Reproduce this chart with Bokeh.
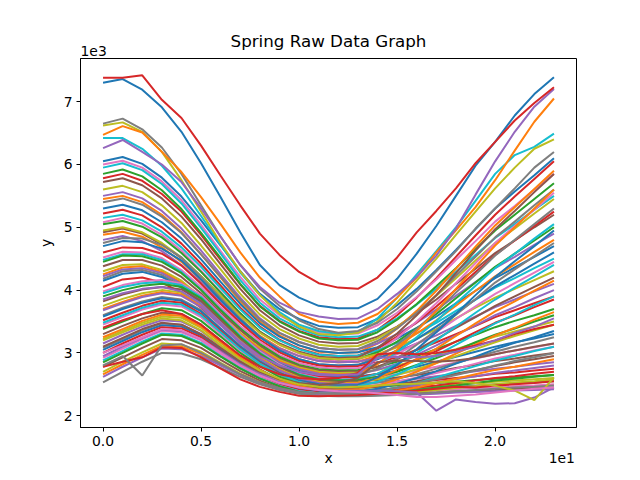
from bokeh.plotting import figure
from bokeh.models import Range1d, FixedTicker, Title, LinearAxis
from bokeh.embed import file_html
from bokeh.resources import INLINE

# values, y in units of 1e3, x = sample index 0..23 (axis shown in 1e1)
steps = list(range(24))
xtick_vals = [0, 5, 10, 15, 20]
xtick_text = ["0.0", "0.5", "1.0", "1.5", "2.0"]
ytick_vals = [2, 3, 4, 5, 6, 7]

# the lines that stand out from the bundle
red_top = [7.38, 7.38, 7.42, 7.03, 6.74, 6.30, 5.82, 5.35, 4.90, 4.56, 4.29, 4.11, 4.04, 4.02, 4.20, 4.52, 4.92, 5.26, 5.62, 6.02, 6.36, 6.70, 6.98, 7.23]
blue_top = [7.30, 7.36, 7.19, 6.91, 6.52, 6.02, 5.48, 4.92, 4.40, 4.08, 3.88, 3.75, 3.71, 3.71, 3.86, 4.18, 4.58, 5.02, 5.50, 5.98, 6.36, 6.78, 7.12, 7.39]
purple_top = [6.26, 6.39, 6.20, 6.00, 5.72, 5.30, 4.85, 4.40, 4.05, 3.80, 3.65, 3.58, 3.54, 3.55, 3.70, 3.94, 4.21, 4.55, 4.98, 5.52, 6.05, 6.52, 6.92, 7.20]
orange_top = [6.47, 6.61, 6.51, 6.20, 5.88, 5.48, 5.05, 4.60, 4.20, 3.90, 3.62, 3.50, 3.46, 3.48, 3.62, 3.88, 4.20, 4.60, 4.95, 5.32, 5.75, 6.22, 6.68, 7.05]
gray_top = [6.65, 6.73, 6.56, 6.27, 5.85, 5.35, 4.85, 4.40, 4.02, 3.75, 3.52, 3.38, 3.32, 3.35, 3.48, 3.70, 3.98, 4.30, 4.62, 4.98, 5.30, 5.62, 5.95, 6.20]
olive_top = [6.62, 6.67, 6.52, 6.20, 5.75, 5.25, 4.75, 4.30, 3.92, 3.62, 3.42, 3.30, 3.28, 3.32, 3.50, 3.80, 4.15, 4.50, 4.88, 5.25, 5.62, 5.95, 6.25, 6.40]
cyan_top = [6.42, 6.42, 6.25, 5.98, 5.62, 5.18, 4.72, 4.28, 3.92, 3.65, 3.45, 3.35, 3.30, 3.33, 3.55, 3.88, 4.25, 4.62, 5.00, 5.42, 5.85, 6.15, 6.28, 6.49]

# lines with a visible glitch or step
red_bottom = [2.78, 2.86, 2.93, 3.09, 3.08, 2.93, 2.75, 2.58, 2.46, 2.38, 2.32, 2.31, 2.32, 2.33, 2.35, 2.38, 2.40, 2.43, 2.46, 2.45, 2.48, 2.50, 2.52, 2.55]
gray_dip = [2.80, 2.95, 2.64, 3.12, 3.14, 3.00, 2.83, 2.66, 2.53, 2.44, 2.38, 2.36, 2.35, 2.36, 2.40, 2.45, 2.52, 2.58, 2.65, 2.72, 2.80, 2.87, 2.93, 3.00]
purple_dip = [2.95, 3.10, 3.24, 3.37, 3.35, 3.22, 3.02, 2.82, 2.65, 2.53, 2.45, 2.41, 2.40, 2.40, 2.40, 2.39, 2.37, 2.08, 2.26, 2.22, 2.19, 2.20, 2.29, 2.45]
olive_dip = [3.20, 3.33, 3.45, 3.55, 3.52, 3.36, 3.12, 2.90, 2.72, 2.59, 2.50, 2.46, 2.45, 2.46, 2.48, 2.50, 2.51, 2.53, 2.55, 2.52, 2.48, 2.40, 2.25, 2.61]
pink_low = [3.00, 3.12, 3.25, 3.38, 3.36, 3.22, 3.00, 2.80, 2.64, 2.52, 2.45, 2.41, 2.39, 2.38, 2.36, 2.33, 2.30, 2.30, 2.32, 2.34, 2.37, 2.40, 2.43, 2.45]
step_a = [3.40, 3.52, 3.62, 3.68, 3.62, 3.45, 3.20, 2.96, 2.78, 2.66, 2.60, 2.58, 2.60, 2.68, 2.98, 3.00, 2.98, 3.00, 3.05, 3.12, 3.20, 3.30, 3.38, 3.45]
step_b = [3.85, 3.95, 4.02, 4.05, 3.98, 3.78, 3.48, 3.18, 2.95, 2.80, 2.70, 2.65, 2.64, 2.66, 2.92, 2.94, 2.93, 2.95, 3.02, 3.10, 3.20, 3.32, 3.42, 3.55]
step_c = [3.10, 3.24, 3.38, 3.48, 3.45, 3.30, 3.08, 2.86, 2.70, 2.58, 2.52, 2.49, 2.52, 2.60, 2.85, 2.88, 2.87, 2.86, 2.88, 2.92, 2.98, 3.04, 3.10, 3.15]

# the main bundle, roughly top to bottom at x = 0
line01 = [6.05, 6.12, 6.01, 5.79, 5.49, 5.11, 4.71, 4.30, 3.94, 3.70, 3.54, 3.43, 3.40, 3.41, 3.54, 3.76, 4.02, 4.32, 4.64, 4.97, 5.30, 5.57, 5.83, 6.10]
line02 = [6.00, 6.06, 5.95, 5.73, 5.43, 5.04, 4.62, 4.21, 3.85, 3.60, 3.44, 3.33, 3.30, 3.31, 3.44, 3.64, 3.89, 4.17, 4.48, 4.78, 5.09, 5.34, 5.60, 5.85]
line03 = [5.95, 6.02, 5.91, 5.69, 5.38, 4.99, 4.58, 4.16, 3.80, 3.55, 3.39, 3.28, 3.25, 3.26, 3.37, 3.55, 3.77, 4.02, 4.29, 4.56, 4.83, 5.05, 5.28, 5.50]
line04 = [5.85, 5.92, 5.81, 5.59, 5.29, 4.91, 4.51, 4.10, 3.74, 3.50, 3.34, 3.23, 3.20, 3.21, 3.33, 3.53, 3.78, 4.06, 4.35, 4.65, 4.95, 5.20, 5.45, 5.70]
line05 = [5.72, 5.78, 5.67, 5.46, 5.17, 4.81, 4.41, 4.02, 3.68, 3.44, 3.28, 3.18, 3.15, 3.16, 3.26, 3.42, 3.63, 3.85, 4.10, 4.34, 4.59, 4.79, 5.00, 5.20]
line06 = [5.60, 5.66, 5.56, 5.35, 5.07, 4.71, 4.33, 3.94, 3.61, 3.38, 3.23, 3.13, 3.10, 3.11, 3.23, 3.41, 3.65, 3.91, 4.19, 4.47, 4.75, 4.98, 5.22, 5.45]
line07 = [5.50, 5.56, 5.46, 5.26, 4.98, 4.63, 4.25, 3.88, 3.55, 3.32, 3.18, 3.08, 3.05, 3.06, 3.15, 3.30, 3.48, 3.69, 3.91, 4.13, 4.35, 4.53, 4.72, 4.90]
line08 = [5.40, 5.46, 5.36, 5.17, 4.91, 4.57, 4.21, 3.85, 3.53, 3.32, 3.17, 3.08, 3.05, 3.06, 3.19, 3.39, 3.64, 3.92, 4.23, 4.53, 4.84, 5.09, 5.35, 5.60]
line09 = [5.30, 5.36, 5.27, 5.08, 4.82, 4.49, 4.13, 3.78, 3.47, 3.26, 3.12, 3.03, 3.00, 3.01, 3.09, 3.23, 3.40, 3.58, 3.79, 3.99, 4.19, 4.36, 4.53, 4.70]
line10 = [5.22, 5.28, 5.19, 5.00, 4.74, 4.42, 4.07, 3.72, 3.42, 3.21, 3.07, 2.98, 2.95, 2.96, 3.07, 3.26, 3.49, 3.74, 4.01, 4.29, 4.56, 4.79, 5.02, 5.25]
line11 = [5.15, 5.20, 5.11, 4.93, 4.68, 4.37, 4.03, 3.69, 3.40, 3.20, 3.06, 2.97, 2.95, 2.96, 3.04, 3.16, 3.31, 3.48, 3.67, 3.85, 4.04, 4.19, 4.35, 4.50]
line12 = [5.05, 5.10, 5.01, 4.84, 4.59, 4.29, 3.96, 3.63, 3.34, 3.14, 3.01, 2.92, 2.90, 2.91, 3.01, 3.18, 3.39, 3.62, 3.87, 4.12, 4.37, 4.58, 4.79, 5.00]
line13 = [4.95, 5.00, 4.92, 4.75, 4.52, 4.22, 3.91, 3.59, 3.32, 3.13, 3.00, 2.92, 2.90, 2.91, 2.98, 3.09, 3.23, 3.38, 3.55, 3.72, 3.88, 4.02, 4.16, 4.30]
line14 = [4.88, 4.93, 4.85, 4.68, 4.45, 4.16, 3.85, 3.54, 3.27, 3.08, 2.95, 2.87, 2.85, 2.86, 2.96, 3.11, 3.31, 3.52, 3.75, 3.99, 4.22, 4.41, 4.61, 4.80]
line15 = [4.80, 4.86, 4.78, 4.62, 4.40, 4.12, 3.81, 3.51, 3.25, 3.07, 2.95, 2.87, 2.85, 2.86, 2.92, 3.02, 3.15, 3.28, 3.43, 3.58, 3.73, 3.85, 3.98, 4.10]
line16 = [4.70, 4.78, 4.76, 4.66, 4.47, 4.17, 3.84, 3.53, 3.25, 3.04, 2.90, 2.82, 2.80, 2.81, 2.90, 3.04, 3.22, 3.42, 3.63, 3.85, 4.06, 4.24, 4.42, 4.60]
line17 = [4.60, 4.68, 4.67, 4.58, 4.39, 4.10, 3.78, 3.48, 3.21, 3.01, 2.87, 2.80, 2.78, 2.79, 2.85, 2.93, 3.05, 3.17, 3.30, 3.43, 3.57, 3.68, 3.79, 3.90]
line18 = [4.52, 4.61, 4.60, 4.51, 4.32, 4.05, 3.73, 3.43, 3.18, 2.97, 2.84, 2.77, 2.75, 2.76, 2.84, 2.98, 3.15, 3.33, 3.54, 3.74, 3.94, 4.11, 4.28, 4.45]
line19 = [4.45, 4.55, 4.54, 4.45, 4.27, 4.00, 3.68, 3.39, 3.14, 2.94, 2.81, 2.74, 2.72, 2.73, 2.78, 2.86, 2.95, 3.06, 3.18, 3.29, 3.41, 3.51, 3.60, 3.70]
line20 = [4.38, 4.48, 4.48, 4.39, 4.21, 3.95, 3.64, 3.36, 3.11, 2.91, 2.79, 2.72, 2.70, 2.71, 2.78, 2.90, 3.05, 3.22, 3.40, 3.57, 3.75, 3.90, 4.05, 4.20]
line21 = [4.30, 4.40, 4.41, 4.32, 4.15, 3.89, 3.60, 3.32, 3.08, 2.89, 2.77, 2.70, 2.68, 2.69, 2.73, 2.80, 2.88, 2.97, 3.06, 3.16, 3.26, 3.34, 3.42, 3.50]
line22 = [4.22, 4.33, 4.35, 4.27, 4.10, 3.84, 3.55, 3.28, 3.04, 2.85, 2.74, 2.67, 2.65, 2.66, 2.73, 2.83, 2.97, 3.12, 3.28, 3.44, 3.60, 3.73, 3.87, 4.00]
line23 = [4.15, 4.26, 4.29, 4.21, 4.04, 3.79, 3.51, 3.24, 3.00, 2.82, 2.71, 2.64, 2.62, 2.63, 2.66, 2.72, 2.78, 2.86, 2.94, 3.02, 3.10, 3.17, 3.23, 3.30]
line24 = [4.05, 4.17, 4.20, 4.12, 3.96, 3.72, 3.45, 3.19, 2.97, 2.79, 2.68, 2.62, 2.60, 2.61, 2.67, 2.77, 2.90, 3.03, 3.18, 3.33, 3.48, 3.60, 3.73, 3.85]
line25 = [3.98, 4.08, 4.14, 4.16, 4.10, 3.92, 3.61, 3.29, 3.02, 2.82, 2.67, 2.60, 2.58, 2.59, 2.62, 2.66, 2.72, 2.78, 2.85, 2.91, 2.98, 3.04, 3.09, 3.15]
line26 = [3.90, 4.00, 4.07, 4.10, 4.05, 3.87, 3.56, 3.25, 2.99, 2.79, 2.65, 2.58, 2.56, 2.57, 2.62, 2.70, 2.81, 2.92, 3.04, 3.17, 3.29, 3.39, 3.50, 3.60]
line27 = [3.82, 3.93, 4.01, 4.05, 4.01, 3.83, 3.52, 3.22, 2.96, 2.77, 2.63, 2.56, 2.54, 2.55, 2.57, 2.61, 2.65, 2.70, 2.76, 2.81, 2.87, 2.91, 2.96, 3.00]
line28 = [3.75, 3.86, 3.95, 4.00, 3.96, 3.78, 3.48, 3.19, 2.93, 2.74, 2.61, 2.54, 2.52, 2.53, 2.58, 2.65, 2.74, 2.84, 2.95, 3.06, 3.17, 3.27, 3.36, 3.45]
line29 = [3.68, 3.79, 3.89, 3.95, 3.91, 3.73, 3.44, 3.15, 2.90, 2.72, 2.59, 2.52, 2.50, 2.51, 2.53, 2.55, 2.59, 2.63, 2.67, 2.71, 2.75, 2.78, 2.82, 2.85]
line30 = [3.60, 3.72, 3.82, 3.89, 3.85, 3.68, 3.39, 3.11, 2.87, 2.69, 2.56, 2.50, 2.48, 2.49, 2.53, 2.59, 2.66, 2.75, 2.84, 2.93, 3.02, 3.10, 3.17, 3.25]
line31 = [3.52, 3.64, 3.75, 3.83, 3.80, 3.62, 3.35, 3.07, 2.84, 2.67, 2.54, 2.48, 2.46, 2.47, 2.48, 2.51, 2.53, 2.57, 2.60, 2.63, 2.67, 2.69, 2.72, 2.75]
line32 = [3.45, 3.57, 3.69, 3.77, 3.74, 3.57, 3.30, 3.04, 2.82, 2.65, 2.53, 2.47, 2.45, 2.46, 2.49, 2.54, 2.61, 2.68, 2.75, 2.83, 2.91, 2.97, 3.04, 3.10]
line33 = [3.38, 3.50, 3.62, 3.71, 3.68, 3.51, 3.26, 3.00, 2.79, 2.62, 2.51, 2.45, 2.44, 2.45, 2.46, 2.48, 2.50, 2.52, 2.54, 2.57, 2.59, 2.61, 2.63, 2.65]
line34 = [3.30, 3.43, 3.55, 3.64, 3.62, 3.45, 3.20, 2.95, 2.74, 2.58, 2.48, 2.43, 2.42, 2.43, 2.46, 2.50, 2.55, 2.61, 2.67, 2.73, 2.79, 2.85, 2.90, 2.95]
line35 = [3.22, 3.35, 3.48, 3.58, 3.56, 3.40, 3.16, 2.92, 2.71, 2.56, 2.46, 2.41, 2.40, 2.41, 2.42, 2.43, 2.45, 2.47, 2.50, 2.52, 2.54, 2.56, 2.58, 2.60]
line36 = [3.15, 3.29, 3.42, 3.52, 3.50, 3.35, 3.11, 2.88, 2.68, 2.53, 2.44, 2.39, 2.38, 2.39, 2.41, 2.44, 2.48, 2.53, 2.58, 2.63, 2.68, 2.72, 2.76, 2.80]
line37 = [3.08, 3.22, 3.36, 3.47, 3.45, 3.30, 3.07, 2.85, 2.65, 2.51, 2.42, 2.38, 2.37, 2.38, 2.39, 2.40, 2.42, 2.44, 2.46, 2.48, 2.50, 2.52, 2.53, 2.55]
line38 = [3.00, 3.15, 3.29, 3.41, 3.39, 3.25, 3.03, 2.81, 2.63, 2.49, 2.41, 2.37, 2.36, 2.37, 2.39, 2.41, 2.45, 2.48, 2.52, 2.56, 2.60, 2.63, 2.67, 2.70]
line39 = [2.92, 3.07, 3.22, 3.35, 3.33, 3.20, 2.98, 2.78, 2.61, 2.48, 2.39, 2.36, 2.35, 2.35, 2.36, 2.37, 2.38, 2.40, 2.42, 2.44, 2.45, 2.47, 2.48, 2.50]
line40 = [2.85, 3.00, 3.15, 3.29, 3.27, 3.14, 2.94, 2.75, 2.59, 2.47, 2.38, 2.35, 2.34, 2.34, 2.36, 2.38, 2.41, 2.45, 2.48, 2.52, 2.56, 2.59, 2.62, 2.65]
line41 = [2.78, 2.93, 3.08, 3.22, 3.20, 3.08, 2.89, 2.71, 2.56, 2.44, 2.37, 2.34, 2.33, 2.33, 2.34, 2.35, 2.36, 2.37, 2.39, 2.40, 2.41, 2.43, 2.44, 2.45]
line42 = [2.70, 2.86, 3.01, 3.15, 3.13, 3.02, 2.84, 2.67, 2.53, 2.42, 2.36, 2.33, 2.32, 2.32, 2.33, 2.35, 2.38, 2.41, 2.44, 2.47, 2.50, 2.53, 2.55, 2.58]
line43 = [2.62, 2.78, 2.93, 3.07, 3.06, 2.95, 2.80, 2.65, 2.52, 2.42, 2.36, 2.33, 2.32, 2.32, 2.33, 2.33, 2.34, 2.35, 2.37, 2.38, 2.39, 2.40, 2.41, 2.42]
line44 = [2.53, 2.70, 2.86, 3.00, 2.99, 2.90, 2.76, 2.62, 2.50, 2.41, 2.35, 2.32, 2.31, 2.31, 2.32, 2.33, 2.35, 2.37, 2.39, 2.41, 2.43, 2.45, 2.46, 2.48]
# bundle lines that climb steeply on the right
line45 = [5.78, 5.85, 5.74, 5.53, 5.25, 4.88, 4.48, 4.09, 3.75, 3.51, 3.35, 3.25, 3.22, 3.23, 3.37, 3.60, 3.88, 4.19, 4.53, 4.87, 5.20, 5.49, 5.77, 6.05]
line46 = [5.45, 5.50, 5.40, 5.20, 4.92, 4.57, 4.20, 3.82, 3.50, 3.28, 3.12, 3.02, 3.00, 3.01, 3.15, 3.39, 3.67, 3.99, 4.34, 4.69, 5.03, 5.32, 5.61, 5.90]
line47 = [5.08, 5.15, 5.06, 4.88, 4.63, 4.31, 3.97, 3.63, 3.33, 3.13, 2.99, 2.90, 2.88, 2.89, 3.02, 3.24, 3.50, 3.79, 4.11, 4.43, 4.75, 5.02, 5.28, 5.55]
line48 = [4.75, 4.83, 4.82, 4.72, 4.52, 4.21, 3.87, 3.55, 3.26, 3.04, 2.90, 2.82, 2.80, 2.81, 2.93, 3.13, 3.38, 3.66, 3.96, 4.25, 4.55, 4.80, 5.05, 5.30]
line49 = [4.48, 4.57, 4.57, 4.48, 4.29, 4.01, 3.69, 3.39, 3.13, 2.92, 2.79, 2.72, 2.70, 2.71, 2.83, 3.01, 3.25, 3.51, 3.79, 4.07, 4.35, 4.58, 4.82, 5.05]
line50 = [4.18, 4.30, 4.32, 4.24, 4.07, 3.81, 3.53, 3.26, 3.02, 2.83, 2.71, 2.65, 2.63, 2.64, 2.75, 2.91, 3.13, 3.36, 3.61, 3.86, 4.12, 4.33, 4.54, 4.75]
line51 = [3.95, 4.05, 4.11, 4.13, 4.08, 3.89, 3.58, 3.27, 3.00, 2.80, 2.66, 2.59, 2.57, 2.58, 2.67, 2.82, 3.00, 3.20, 3.42, 3.64, 3.85, 4.04, 4.22, 4.40]
line52 = [3.70, 3.81, 3.91, 3.97, 3.93, 3.75, 3.46, 3.16, 2.91, 2.73, 2.60, 2.53, 2.51, 2.52, 2.60, 2.73, 2.90, 3.07, 3.27, 3.47, 3.66, 3.82, 3.99, 4.15]
line53 = [3.48, 3.60, 3.72, 3.80, 3.77, 3.60, 3.33, 3.06, 2.83, 2.66, 2.54, 2.47, 2.46, 2.47, 2.54, 2.66, 2.80, 2.96, 3.13, 3.30, 3.47, 3.61, 3.76, 3.90]
line54 = [3.25, 3.38, 3.51, 3.61, 3.59, 3.42, 3.18, 2.93, 2.73, 2.57, 2.47, 2.42, 2.41, 2.42, 2.48, 2.58, 2.70, 2.84, 2.99, 3.13, 3.28, 3.40, 3.53, 3.65]
line55 = [3.05, 3.19, 3.33, 3.44, 3.42, 3.28, 3.05, 2.83, 2.64, 2.50, 2.42, 2.38, 2.37, 2.38, 2.43, 2.51, 2.60, 2.71, 2.83, 2.94, 3.06, 3.16, 3.25, 3.35]
line56 = [2.88, 3.03, 3.18, 3.31, 3.29, 3.16, 2.95, 2.76, 2.60, 2.47, 2.39, 2.36, 2.35, 2.35, 2.39, 2.45, 2.52, 2.61, 2.70, 2.79, 2.88, 2.95, 3.03, 3.10]
line57 = [2.66, 2.82, 2.97, 3.11, 3.10, 2.98, 2.82, 2.66, 2.53, 2.43, 2.36, 2.33, 2.32, 2.32, 2.35, 2.40, 2.45, 2.52, 2.59, 2.66, 2.73, 2.78, 2.84, 2.90]
line58 = [4.92, 4.98, 4.90, 4.73, 4.51, 4.22, 3.91, 3.60, 3.33, 3.15, 3.02, 2.94, 2.92, 2.93, 3.08, 3.31, 3.60, 3.92, 4.27, 4.63, 4.97, 5.26, 5.56, 5.85]
line59 = [4.25, 4.36, 4.38, 4.29, 4.12, 3.86, 3.57, 3.30, 3.06, 2.87, 2.75, 2.68, 2.66, 2.67, 2.82, 3.05, 3.35, 3.67, 4.02, 4.37, 4.71, 5.00, 5.30, 5.60]
line60 = [3.58, 3.70, 3.80, 3.87, 3.83, 3.66, 3.38, 3.10, 2.86, 2.68, 2.56, 2.50, 2.48, 2.49, 2.61, 2.81, 3.06, 3.33, 3.62, 3.92, 4.21, 4.46, 4.70, 4.95]

tab10 = ["#1f77b4", "#ff7f0e", "#2ca02c", "#d62728", "#9467bd",
         "#8c564b", "#e377c2", "#7f7f7f", "#bcbd22", "#17becf"]

bundle = [line01, line45, line02, line03, line04, line05, line06, line46, line07, line08,
          line09, line10, line47, line11, line12, line58, line13, line14, line15, line48,
          line16, line17, line18, line49, line19, line20, line21, line59, line22, line50,
          line23, line24, line25, line51, line26, line27, line28, line52, line29, line30,
          line60, line31, line32, line53, line33, line34, line35, line54, line36, line37,
          line55, line38, line39, line56, line40, line41, line42, line57, line43, line44]
special = [(step_a, tab10[3]), (step_b, tab10[4]), (step_c, tab10[5]),
           (red_bottom, tab10[3]), (gray_dip, tab10[7]), (purple_dip, tab10[4]),
           (olive_dip, tab10[8]), (pink_low, tab10[6])]
outliers = [(cyan_top, tab10[9]), (olive_top, tab10[8]), (gray_top, tab10[7]),
            (orange_top, tab10[1]), (purple_top, tab10[4]),
            (blue_top, tab10[0]), (red_top, tab10[3])]

everything = bundle + [s for s, c in special] + [s for s, c in outliers]
lo = min(min(s) for s in everything)
hi = max(max(s) for s in everything)
pad = 0.05 * (hi - lo)

FONT = "DejaVu Sans"
SMALL = "13.9px"

p = figure(width=640, height=480, output_backend="svg", toolbar_location=None,
           title=None,
           x_range=Range1d(-0.05 * 23, 23 * 1.05), y_range=Range1d(lo - pad, hi + pad),
           min_border_left=80, min_border_right=64, min_border_top=58, min_border_bottom=53)

for i, s in enumerate(bundle):
    p.line(steps, s, line_color=tab10[(i * 3) % 10], line_width=2)
for s, c in special:
    p.line(steps, s, line_color=c, line_width=2)
for s, c in outliers:
    p.line(steps, s, line_color=c, line_width=2)

p.xgrid.visible = False
p.ygrid.visible = False
p.outline_line_color = "black"
p.outline_line_alpha = 1

p.xaxis.ticker = FixedTicker(ticks=xtick_vals)
p.xaxis.major_label_overrides = dict(zip(xtick_vals, xtick_text))
p.yaxis.ticker = FixedTicker(ticks=ytick_vals)
p.yaxis.axis_label = "y"

for ax in (p.xaxis[0], p.yaxis[0]):
    ax.axis_line_color = "black"
    ax.major_tick_line_color = "black"
    ax.major_tick_in = 0
    ax.major_tick_out = 4
    ax.minor_tick_line_color = None
    ax.major_label_text_font = FONT
    ax.major_label_text_font_size = SMALL
    ax.major_label_text_color = "black"
    ax.axis_label_text_font = FONT
    ax.axis_label_text_font_size = SMALL
    ax.axis_label_text_font_style = "normal"
    ax.axis_label_text_color = "black"
    ax.major_label_standoff = 4
p.yaxis.axis_label_standoff = 7
p.yaxis.major_label_orientation = "horizontal"

# second row under the x axis: the axis name in the middle and the "1e1" offset at the right
label_row = LinearAxis(ticker=FixedTicker(ticks=[11.5, 23.4]),
                       major_label_overrides={11.5: "x", 23.4: "1e1"},
                       axis_line_color=None, major_tick_line_color=None,
                       minor_tick_line_color=None, major_tick_out=0, major_tick_in=0,
                       major_label_standoff=1, major_label_text_font=FONT,
                       major_label_text_font_size=SMALL, major_label_text_color="black")
p.add_layout(label_row, "below")

# offset text of the y axis, and the title pulled down onto the same row as "1e3"
p.add_layout(Title(text="1e3", align="left", text_font=FONT, text_font_size=SMALL,
                   text_font_style="normal", text_color="black", standoff=5), "above")
p.add_layout(Title(text="Spring Raw Data Graph", align="center", text_font=FONT,
                   text_font_size="16.7px", text_font_style="normal", text_color="black",
                   standoff=-18), "above")

open("out.html", "w").write(file_html(p, INLINE))
